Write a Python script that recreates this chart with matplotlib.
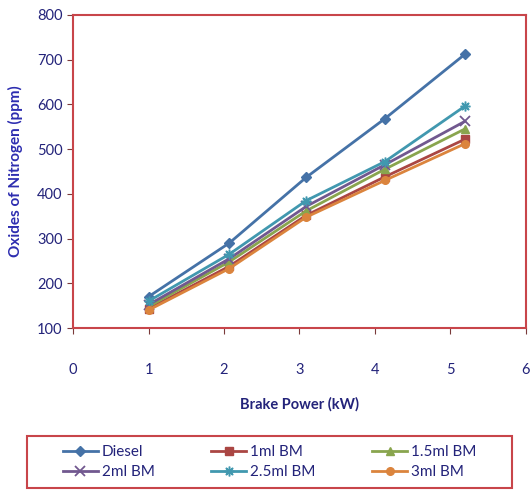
import matplotlib.pyplot as plt
from matplotlib.patches import Rectangle

plt.rcParams['font.family'] = ['Lato', 'DejaVu Sans']

# data
brake_power = [1.0, 2.07, 3.09, 4.13, 5.19]
diesel = [170, 290, 437, 568, 712]
bm_1 = [143, 238, 352, 438, 522]
bm_15 = [148, 248, 362, 455, 545]
bm_2 = [152, 255, 372, 465, 562]
bm_25 = [160, 265, 385, 472, 596]
bm_3 = [140, 233, 348, 430, 512]

series = [
    ('Diesel', diesel, '#4572A7', 'D'),
    ('1ml BM', bm_1, '#AA4643', 's'),
    ('1.5ml BM', bm_15, '#89A54E', '^'),
    ('2ml BM', bm_2, '#71588F', 'x'),
    ('2.5ml BM', bm_25, '#4198AF', '$\u2733$'),
    ('3ml BM', bm_3, '#DB843D', 'o'),
]

navy = '#23237A'
red = '#C8454A'

fig = plt.figure(figsize=(5.31, 4.96), dpi=100)
ax = fig.add_axes([0.1375, 0.3387, 0.853, 0.6311])

lines = {}
for name, vals, col, mk in series:
    ms = 5.5 if mk not in ('x', '$\u2733$') else 6.5
    ln, = ax.plot(brake_power, vals, color=col, marker=mk, markersize=ms,
                  linewidth=2, markeredgewidth=1.3 if mk == 'x' else 1,
                  label=name)
    lines[name] = ln

ax.set_xlim(0, 6)
ax.set_ylim(100, 800)
ax.set_xticks(range(0, 7))
ax.set_yticks(range(100, 801, 100))

for s in ax.spines.values():
    s.set_color(red)
    s.set_linewidth(1.5)

ax.tick_params(direction='out', length=4, color='#7A3A3A', labelcolor=navy,
               labelsize=10.5)
ax.tick_params(axis='x', pad=21)

ax.set_xlabel('Brake Power (kW)', fontsize=10.5, fontweight='bold', color=navy,
              labelpad=15)
ax.set_ylabel('Oxides of Nitrogen (ppm)', fontsize=11, fontweight='bold',
              color='#2D2DB0', labelpad=10)

# legend frame drawn separately
fig.patches.append(Rectangle((27 / 531, 8 / 496), 485 / 531, 52 / 496,
                             transform=fig.transFigure, fill=False,
                             edgecolor=red, linewidth=1.5))

# legend order to fill rows: Diesel, 1ml, 1.5ml / 2ml, 2.5ml, 3ml
order = ['Diesel', '2ml BM', '1ml BM', '2.5ml BM', '1.5ml BM', '3ml BM']
leg = fig.legend([lines[n] for n in order], order, ncol=3,
                 loc='center', bbox_to_anchor=(269.5 / 531, 34 / 496),
                 fontsize=11, handlelength=2.3, frameon=False,
                 borderaxespad=0, labelspacing=0.4, handletextpad=0.25,
                 columnspacing=3.7)
for t in leg.get_texts():
    t.set_color(navy)

fig.savefig('out.png', dpi=100)
